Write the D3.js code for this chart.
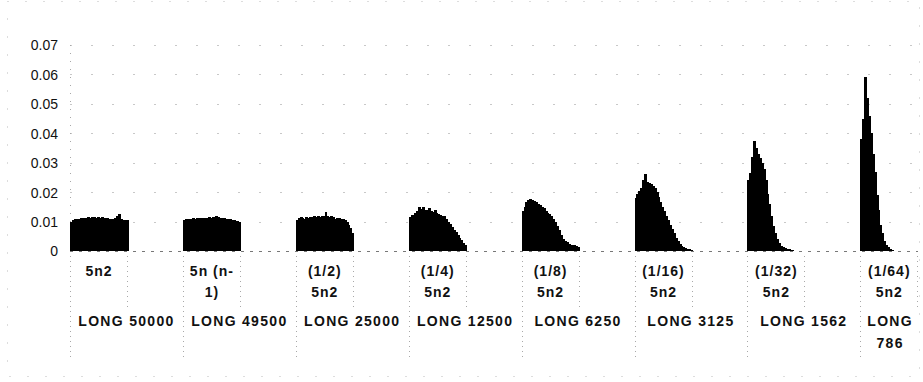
<!DOCTYPE html>
<html>
<head>
<meta charset="utf-8">
<script src="https://cdn.jsdelivr.net/npm/d3@7"></script>
<style>
  html, body { margin: 0; padding: 0; background: #fff; }
  svg { display: block; }
  text { font-family: "Liberation Sans", Arial, sans-serif; fill: #111; }
</style>
</head>
<body>
<svg id="chart" width="923" height="382"></svg>
<script>
// ---- data ----
const outerLabels = [["LONG 50000"], ["LONG 49500"], ["LONG 25000"], ["LONG 12500"],
                     ["LONG 6250"], ["LONG 3125"], ["LONG 1562"], ["LONG", "786"]];
const innerLabels = [["5n2"], ["5n (n-", "1)"], ["(1/2)", "5n2"], ["(1/4)", "5n2"],
                     ["(1/8)", "5n2"], ["(1/16)", "5n2"], ["(1/32)", "5n2"], ["(1/64)", "5n2"]];
const yTicks = [0, 0.01, 0.02, 0.03, 0.04, 0.05, 0.06, 0.07];

const g1 = [0.0100,0.0107,0.0109,0.0110,0.0109,0.0111,0.0112,0.0111,0.0113,0.0114,0.0113,0.0115,0.0114,0.0112,0.0115,0.0113,0.0114,0.0112,0.0113,0.0111,0.0109,0.0108,0.0110,0.0112,0.0118,0.0126,0.0109,0.0107,0.0105,0.0104];
const g2 = [0.0104,0.0108,0.0109,0.0108,0.0110,0.0111,0.0110,0.0112,0.0111,0.0113,0.0112,0.0111,0.0113,0.0114,0.0112,0.0115,0.0113,0.0120,0.0114,0.0112,0.0113,0.0111,0.0109,0.0110,0.0108,0.0106,0.0105,0.0103,0.0101,0.0100];
const g3 = [0.0106,0.0112,0.0114,0.0113,0.0110,0.0116,0.0113,0.0117,0.0115,0.0118,0.0116,0.0119,0.0117,0.0120,0.0118,0.0132,0.0120,0.0117,0.0119,0.0114,0.0110,0.0113,0.0112,0.0110,0.0109,0.0105,0.0098,0.0090,0.0078,0.0060];
const g4 = [0.0116,0.0122,0.0124,0.0130,0.0135,0.0148,0.0142,0.0150,0.0140,0.0138,0.0145,0.0136,0.0132,0.0140,0.0128,0.0126,0.0124,0.0118,0.0120,0.0110,0.0100,0.0092,0.0080,0.0072,0.0065,0.0055,0.0045,0.0036,0.0028,0.0020];
const g5 = [0.0135,0.0150,0.0165,0.0172,0.0178,0.0175,0.0170,0.0168,0.0160,0.0155,0.0150,0.0145,0.0135,0.0130,0.0125,0.0118,0.0110,0.0100,0.0085,0.0070,0.0055,0.0042,0.0035,0.0030,0.0025,0.0022,0.0020,0.0020,0.0018,0.0015];
const g6 = [0.0180,0.0195,0.0205,0.0215,0.0240,0.0262,0.0235,0.0230,0.0228,0.0222,0.0215,0.0200,0.0185,0.0165,0.0148,0.0135,0.0120,0.0105,0.0090,0.0075,0.0060,0.0045,0.0035,0.0025,0.0018,0.0014,0.0011,0.0008,0.0006,0.0004];
const g7 = [0.0240,0.0265,0.0320,0.0375,0.0350,0.0330,0.0315,0.0300,0.0280,0.0240,0.0195,0.0160,0.0120,0.0085,0.0060,0.0040,0.0028,0.0018,0.0014,0.0010,0.0008,0.0006,0.0004,0.0003];
const g8 = [0.0380,0.0450,0.0590,0.0520,0.0460,0.0400,0.0330,0.0270,0.0190,0.0140,0.0090,0.0060,0.0035,0.0020,0.0012,0.0006,0.0003];
const groups = [g1, g2, g3, g4, g5, g6, g7, g8];

// ---- layout ----
const svg = d3.select("#chart");
const leftX = 70, step = 112.9, base = 251, topY = 45, plotRight = 920;

const x = d3.scaleBand().domain(d3.range(groups.length)).range([leftX, leftX + step * groups.length]).padding(0);
const xin = d3.scaleLinear().domain([0, 30]).range([0, 57.5]);   // bin index -> offset within group
const y = d3.scaleLinear().domain([0, 0.07]).range([base, topY]);

const dotted = "#a8a8a8";

// outer border (faint dotted)
svg.append("rect").attr("x", 7.5).attr("y", 1.5).attr("width", 912).attr("height", 375)
  .attr("fill", "none").attr("stroke", "#bbb").attr("stroke-width", 1)
  .attr("stroke-dasharray", "1,17");

// horizontal gridlines
svg.append("g").selectAll("line").data(yTicks.filter(d => d > 0)).join("line")
  .attr("x1", leftX).attr("x2", 918)
  .attr("y1", d => Math.round(y(d)) + 0.5).attr("y2", d => Math.round(y(d)) + 0.5)
  .attr("stroke", "#c8c8c8").attr("stroke-width", 1).attr("stroke-dasharray", "2,19");

// y axis
const yAxis = d3.axisLeft(y).tickValues(yTicks).tickSize(0).tickPadding(0)
  .tickFormat(d => d === 0 ? "0" : d3.format(".2f")(d));
const ya = svg.append("g").attr("transform", `translate(${leftX - 12},0)`).call(yAxis);
ya.select(".domain").remove();
ya.selectAll("text").style("font-family", '"Liberation Sans", Arial, sans-serif')
  .style("font-size", "14px").attr("fill", "#111").attr("dy", "0.35em");
svg.append("line").attr("x1", leftX + 0.5).attr("x2", leftX + 0.5).attr("y1", topY).attr("y2", base)
  .attr("stroke", dotted).attr("stroke-dasharray", "1,7");

// x axis baseline
svg.append("line").attr("x1", leftX).attr("x2", 918).attr("y1", base + 0.5).attr("y2", base + 0.5)
  .attr("stroke", "#777").attr("stroke-dasharray", "3,6");

// bars
groups.forEach((vals, gi) => {
  svg.append("g").attr("shape-rendering", "crispEdges").selectAll("rect").data(vals).join("rect")
    .attr("x", (d, i) => x(gi) + xin(i))
    .attr("width", xin(1) + 1)
    .attr("y", d => y(d))
    .attr("height", d => base - y(d))
    .attr("fill", "#000");
});

// category dividers
const gStarts = d3.range(groups.length).map(i => x(i));
svg.append("g").selectAll("line").data(gStarts).join("line")
  .attr("x1", d => Math.round(d) + 0.5).attr("x2", d => Math.round(d) + 0.5)
  .attr("y1", base + 5).attr("y2", 358)
  .attr("stroke", dotted).attr("stroke-dasharray", "1,4");
svg.append("g").selectAll("line").data(gStarts).join("line")
  .attr("x1", d => Math.round(d + 57) + 0.5).attr("x2", d => Math.round(d + 57) + 0.5)
  .attr("y1", base + 5).attr("y2", 307)
  .attr("stroke", dotted).attr("stroke-dasharray", "1,4");

// inner labels
const inner = svg.append("g");
innerLabels.forEach((lines, gi) => {
  const cx = Math.min(x(gi) + 29, (x(gi) + plotRight) / 2);
  lines.forEach((t, li) => {
    inner.append("text").attr("x", cx).attr("y", 276 + li * 21)
      .attr("text-anchor", "middle").style("font-size", "14px").style("font-weight", "bold")
      .style("letter-spacing", "1px").text(t);
  });
});

// outer labels
const outer = svg.append("g");
outerLabels.forEach((lines, gi) => {
  const bandEnd = Math.min(x(gi) + x.bandwidth(), plotRight);
  const cx = (x(gi) + bandEnd) / 2;
  lines.forEach((t, li) => {
    outer.append("text").attr("x", cx).attr("y", 326 + li * 22)
      .attr("text-anchor", "middle").style("font-size", "14px").style("font-weight", "bold")
      .style("letter-spacing", "1.3px").text(t);
  });
});
</script>
</body>
</html>
